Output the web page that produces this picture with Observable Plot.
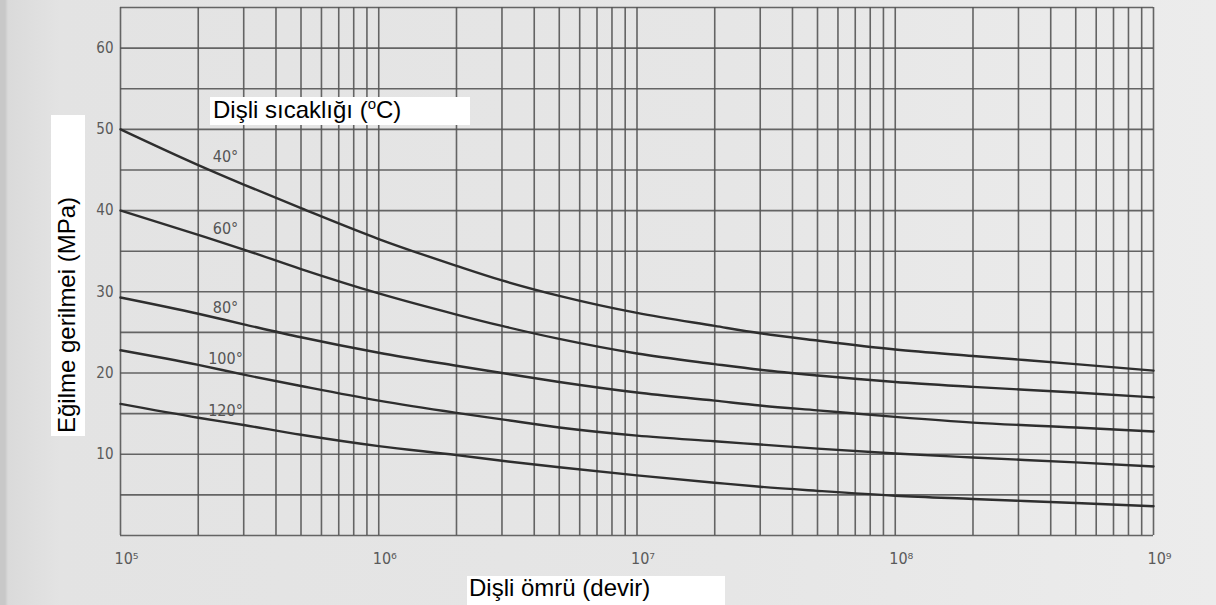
<!DOCTYPE html>
<html>
<head>
<meta charset="utf-8">
<script src="https://cdn.jsdelivr.net/npm/d3@7"></script>
<script src="https://cdn.jsdelivr.net/npm/@observablehq/plot@0.6"></script>
<style>
  html, body { margin:0; padding:0; background:#e4e4e4; }
  #wrap { position:relative; width:1216px; height:605px; overflow:hidden;
          background:linear-gradient(90deg,#c8c8c8 0px,#c8c8c8 5px,#dadada 8px,#e3e3e3 60px,#e6e6e6 60%,#ececec 100%); }
  .box { position:absolute; background:#ffffff; color:#000; font-family:"Liberation Sans", Arial, sans-serif; font-size:24px; line-height:24px; white-space:nowrap; box-sizing:border-box; }
  .rot { position:absolute; color:#000; font-family:"Liberation Sans", Arial, sans-serif; font-size:24px; line-height:24px; white-space:nowrap; transform-origin:0 0; transform:rotate(-90deg); }
  sup { font-size:15px; vertical-align:9px; line-height:0; }
</style>
</head>
<body>
<div id="wrap"></div>
<script>
// Data
const cycles = [1e5, 2e5, 3e5, 5e5, 1e6, 2e6, 3e6, 5e6, 1e7, 2e7, 3e7, 5e7, 1e8, 2e8, 5e8, 1e9];
const s40  = [50.0, 45.6, 43.2, 40.3, 36.5, 33.2, 31.4, 29.5, 27.4, 25.8, 24.9, 24.0, 22.9, 22.1, 21.1, 20.3];
const s60  = [40.0, 37.0, 35.2, 32.8, 29.8, 27.2, 25.8, 24.2, 22.4, 21.1, 20.4, 19.7, 18.9, 18.3, 17.6, 17.0];
const s80  = [29.3, 27.3, 26.0, 24.4, 22.5, 20.9, 20.0, 18.9, 17.6, 16.6, 16.0, 15.4, 14.6, 13.9, 13.3, 12.8];
const s100 = [22.8, 21.0, 19.8, 18.4, 16.6, 15.1, 14.3, 13.3, 12.3, 11.6, 11.2, 10.7, 10.1, 9.6, 9.0, 8.5];
const s120 = [16.2, 14.5, 13.6, 12.4, 11.0, 9.9, 9.2, 8.4, 7.4, 6.5, 6.0, 5.5, 4.9, 4.5, 4.0, 3.6];
const seriesNames = ["40°", "60°", "80°", "100°", "120°"];
const labelY = [46.6, 37.8, 28.0, 21.7, 15.3];
const labelX = 2.55e5;
const xTicks = [1e5, 1e6, 1e7, 1e8, 1e9];
const yTicks = [10, 20, 30, 40, 50, 60];

const allSeries = [s40, s60, s80, s100, s120];
const table = [];
allSeries.forEach((s, i) => s.forEach((v, j) => table.push({N: cycles[j], stress: v, temp: seriesNames[i]})));

const xGrid = [];
for (let e = 5; e < 9; e++) for (let m = 1; m <= 9; m++) xGrid.push(m * Math.pow(10, e));
xGrid.push(1e9);
const yGrid = d3.range(0, 66, 5);
const labels = seriesNames.map((t, i) => ({N: labelX, stress: labelY[i], text: t}));

const sup = {"0":"⁰","1":"¹","2":"²","3":"³","4":"⁴","5":"⁵","6":"⁶","7":"⁷","8":"⁸","9":"⁹"};
const fmt = d => "10" + String(Math.round(Math.log10(d))).split("").map(c => sup[c]).join("");

const chart = Plot.plot({
  width: 1216, height: 605,
  marginLeft: 120, marginRight: 63, marginTop: 7, marginBottom: 70,
  style: {background: "transparent", fontFamily: "'Liberation Sans Narrow', 'DejaVu Sans Condensed', sans-serif", fontSize: "15px", color: "#5a5a5a"},
  x: {type: "log", domain: [1e5, 1e9]},
  y: {domain: [0, 65]},
  marks: [
    Plot.ruleX(xGrid, {stroke: "#555", strokeWidth: 1.6, strokeOpacity: 0.9}),
    Plot.ruleY(yGrid, {stroke: "#555", strokeWidth: 1.6, strokeOpacity: 0.9}),
    Plot.axisY(yTicks, {tickSize: 0, tickPadding: 7, label: null, fontSize: 15, fill: "#5a5a5a"}),
    Plot.axisX(xTicks, {tickSize: 0, tickPadding: 17, label: null, tickFormat: fmt, fontSize: 16, fill: "#5a5a5a", dx: 6}),
    Plot.line(table, {x: "N", y: "stress", z: "temp", stroke: "#2e2e2e", strokeWidth: 2.4, curve: "monotone-x"}),
    Plot.text(labels, {x: "N", y: "stress", text: "text", fontSize: 16, fill: "#555"})
  ]
});
const wrap = document.getElementById("wrap");
wrap.appendChild(chart);

function addEl(cls, html, style) {
  const d = document.createElement("div");
  d.className = cls;
  d.innerHTML = html;
  Object.assign(d.style, style);
  wrap.appendChild(d);
  return d;
}
addEl("box", "Dişli sıcaklığı (<sup>o</sup>C)", {left: "210px", top: "97px", width: "260px", height: "28px", paddingLeft: "3px", paddingTop: "1px"});
addEl("box", "Dişli ömrü (devir)", {left: "467px", top: "576px", width: "258px", height: "29px", paddingLeft: "2px", paddingTop: "0px"});
addEl("box", "", {left: "51px", top: "115px", width: "34px", height: "321px"});
addEl("rot", "Eğilme gerilmei (MPa)", {left: "55px", top: "433px"});
</script>
</body>
</html>
